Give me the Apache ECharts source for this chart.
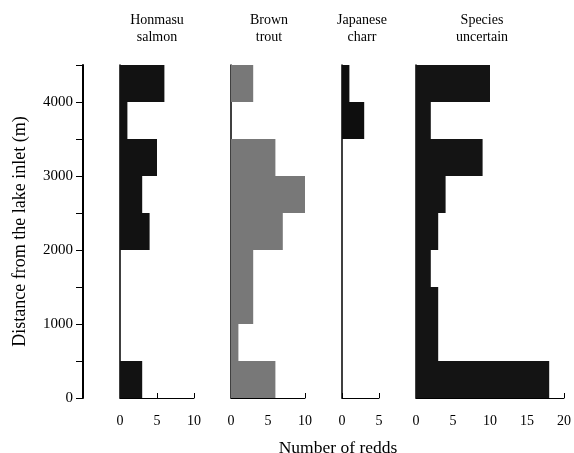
<!DOCTYPE html>
<html>
<head>
<meta charset="utf-8">
<script src="https://cdn.jsdelivr.net/npm/echarts@6/dist/echarts.min.js"></script>
<style>html,body{margin:0;padding:0;background:#fff;}#c{width:574px;height:453px;}</style>
</head>
<body>
<div id="c"></div>
<script>
// Distance bins (m), bottom to top
var bins = ['0-500','500-1000','1000-1500','1500-2000','2000-2500','2500-3000','3000-3500','3500-4000','4000-4500'];
var honmasu   = [3, 0, 0, 0, 4, 3, 5, 1, 6];
var brown     = [6, 1, 3, 3, 7, 10, 6, 0, 3];
var charr     = [0, 0, 0, 0, 0, 0, 0, 3, 1];
var uncertain = [18, 3, 3, 2, 3, 4, 9, 2, 10];
var panelTitles = ['Honmasu\nsalmon', 'Brown\ntrout', 'Japanese\ncharr', 'Species\nuncertain'];
var panelMax = [10, 10, 5, 20];
var distanceTicks = [0, 1000, 2000, 3000, 4000];

var FONT = 'Liberation Serif';
var TOP = 65, BOTTOM_Y = 398, H = BOTTOM_Y - TOP;
var panelLeft = [120, 231, 342, 416];
var titleCenter = [152, 264, 357, 477];
var unitPx = 7.4;
var colors = ['#121212', '#787878', '#0e0e0e', '#141414'];
var series = [honmasu, brown, charr, uncertain];

var grids = [{left: 83, top: TOP, width: 1, height: H}];
var xAxes = [{gridIndex: 0, type: 'value', show: false, min: 0, max: 1}];
var yAxes = [{
  gridIndex: 0, type: 'value', min: 0, max: 4500, interval: 500,
  name: 'Distance from the lake inlet (m)', nameLocation: 'middle', nameGap: 54,
  nameTextStyle: {fontFamily: FONT, fontSize: 18, color: '#000'},
  axisLine: {show: true, lineStyle: {color: '#000', width: 2}},
  axisTick: {show: true, length: 7, lineStyle: {color: '#000', width: 1}},
  axisLabel: {margin: 10, fontFamily: FONT, fontSize: 15, color: '#000',
    formatter: function(v){ return distanceTicks.indexOf(v) >= 0 ? String(v) : ''; }},
  splitLine: {show: false}
}];
var seriesOpts = [];
var titles = [];
for (var i = 0; i < 4; i++) {
  var gi = i + 1;
  var w = panelMax[i] * unitPx;
  grids.push({left: panelLeft[i], top: TOP, width: w, height: H});
  xAxes.push({
    gridIndex: gi, type: 'value', min: 0, max: panelMax[i], interval: 5,
    axisLine: {show: true, lineStyle: {color: '#000', width: 1}},
    axisTick: {show: true, inside: true, length: 5, lineStyle: {color: '#000'}},
    axisLabel: {margin: 16, fontFamily: FONT, fontSize: 14, color: '#000'},
    splitLine: {show: false}
  });
  yAxes.push({
    gridIndex: gi, type: 'category', data: bins, boundaryGap: true,
    axisLine: {show: true, lineStyle: {color: '#000', width: 1.5}},
    axisTick: {show: false}, axisLabel: {show: false}, splitLine: {show: false}
  });
  seriesOpts.push({
    type: 'bar', xAxisIndex: gi, yAxisIndex: gi, data: series[i],
    barCategoryGap: '0%', barWidth: '100%',
    itemStyle: {color: colors[i]}, silent: true, animation: false
  });
  titles.push({
    text: panelTitles[i], left: titleCenter[i], top: 7, textAlign: 'center',
    textStyle: {fontFamily: FONT, fontSize: 14, fontWeight: 'normal', color: '#000', lineHeight: 17}
  });
}
titles.push({
  text: 'Number of redds', left: 333, top: 434, textAlign: 'center',
  textStyle: {fontFamily: FONT, fontSize: 17.5, fontWeight: 'normal', color: '#000'}
});

var chart = echarts.init(document.getElementById('c'), null, {renderer: 'canvas'});
chart.setOption({
  animation: false,
  backgroundColor: '#fff',
  title: titles,
  grid: grids,
  xAxis: xAxes,
  yAxis: yAxes,
  series: seriesOpts
});
</script>
</body>
</html>
